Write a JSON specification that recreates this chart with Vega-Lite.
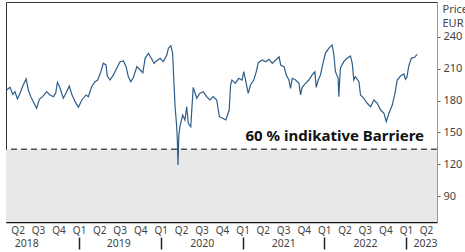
{
  "$schema": "https://vega.github.io/schema/vega-lite/v6.json",
  "width": 431,
  "height": 220,
  "autosize": "none",
  "padding": {"left": 6, "top": 2, "right": 28, "bottom": 30},
  "config": {
    "font": "Noto Sans",
    "view": {"stroke": "#333", "strokeWidth": 1},
    "axis": {"grid": false, "labelFont": "Noto Sans", "titleFont": "Noto Sans"}
  },
  "resolve": {"scale": {"x": "shared", "y": "shared"}, "axis": {"x": "independent", "y": "independent"}},
  "layer": [
    {
      "data": {"values": [{"barrier": 134, "low": 65.5}]},
      "mark": {"type": "rect", "color": "#e8e8e8"},
      "encoding": {
        "y": {"field": "barrier", "type": "quantitative", "scale": {"domain": [65.5, 273], "nice": false, "zero": false}, "axis": null},
        "y2": {"field": "low"}
      }
    },
    {
      "data": {"values": [{"barrier": 134}]},
      "mark": {"type": "rule", "color": "#555", "strokeWidth": 1.5, "strokeDash": [6, 4]},
      "encoding": {
        "y": {"field": "barrier", "type": "quantitative", "axis": null}
      }
    },
    {
      "data": {"values": [
        {"date": "2018-02-11", "price": 190.0},
        {"date": "2018-02-26", "price": 192.5},
        {"date": "2018-03-10", "price": 185.9},
        {"date": "2018-03-20", "price": 188.4},
        {"date": "2018-03-31", "price": 181.5},
        {"date": "2018-04-12", "price": 186.9},
        {"date": "2018-04-24", "price": 193.8},
        {"date": "2018-05-09", "price": 200.4},
        {"date": "2018-05-19", "price": 190.0},
        {"date": "2018-05-30", "price": 183.7},
        {"date": "2018-06-10", "price": 179.0},
        {"date": "2018-06-25", "price": 172.7},
        {"date": "2018-07-07", "price": 181.2},
        {"date": "2018-07-22", "price": 183.7},
        {"date": "2018-08-09", "price": 188.4},
        {"date": "2018-08-24", "price": 185.3},
        {"date": "2018-09-08", "price": 183.7},
        {"date": "2018-09-18", "price": 186.9},
        {"date": "2018-09-26", "price": 197.3},
        {"date": "2018-10-08", "price": 191.6},
        {"date": "2018-10-22", "price": 182.2},
        {"date": "2018-11-04", "price": 187.5},
        {"date": "2018-11-18", "price": 193.8},
        {"date": "2018-11-29", "price": 185.9},
        {"date": "2018-12-14", "price": 179.0},
        {"date": "2018-12-29", "price": 173.7},
        {"date": "2019-01-13", "price": 180.6},
        {"date": "2019-02-01", "price": 185.3},
        {"date": "2019-02-11", "price": 183.7},
        {"date": "2019-02-26", "price": 193.1},
        {"date": "2019-03-13", "price": 197.8},
        {"date": "2019-03-25", "price": 199.4},
        {"date": "2019-04-08", "price": 207.3},
        {"date": "2019-04-19", "price": 215.2},
        {"date": "2019-05-01", "price": 213.6},
        {"date": "2019-05-07", "price": 203.2},
        {"date": "2019-05-19", "price": 199.4},
        {"date": "2019-06-03", "price": 204.2},
        {"date": "2019-06-18", "price": 210.5},
        {"date": "2019-07-03", "price": 216.7},
        {"date": "2019-07-18", "price": 217.4},
        {"date": "2019-07-30", "price": 212.0},
        {"date": "2019-08-09", "price": 202.5},
        {"date": "2019-08-20", "price": 197.8},
        {"date": "2019-09-01", "price": 202.0},
        {"date": "2019-09-16", "price": 212.0},
        {"date": "2019-10-01", "price": 208.9},
        {"date": "2019-10-13", "price": 206.3},
        {"date": "2019-10-23", "price": 219.9},
        {"date": "2019-11-07", "price": 224.6},
        {"date": "2019-11-22", "price": 219.0},
        {"date": "2019-12-02", "price": 215.2},
        {"date": "2019-12-14", "price": 217.6},
        {"date": "2019-12-29", "price": 219.9},
        {"date": "2020-01-12", "price": 216.7},
        {"date": "2020-01-28", "price": 223.0},
        {"date": "2020-02-04", "price": 229.3},
        {"date": "2020-02-15", "price": 231.8},
        {"date": "2020-02-23", "price": 224.6},
        {"date": "2020-02-29", "price": 196.3},
        {"date": "2020-03-05", "price": 174.2},
        {"date": "2020-03-12", "price": 156.0},
        {"date": "2020-03-15", "price": 142.8},
        {"date": "2020-03-18", "price": 119.2},
        {"date": "2020-03-22", "price": 147.5},
        {"date": "2020-03-27", "price": 156.0},
        {"date": "2020-04-08", "price": 166.4},
        {"date": "2020-04-18", "price": 161.7},
        {"date": "2020-04-26", "price": 174.2},
        {"date": "2020-05-03", "price": 158.6},
        {"date": "2020-05-14", "price": 155.4},
        {"date": "2020-05-25", "price": 192.5},
        {"date": "2020-06-10", "price": 182.2},
        {"date": "2020-06-24", "price": 186.9},
        {"date": "2020-07-09", "price": 188.4},
        {"date": "2020-07-24", "price": 183.7},
        {"date": "2020-08-08", "price": 180.6},
        {"date": "2020-08-23", "price": 183.7},
        {"date": "2020-09-07", "price": 180.6},
        {"date": "2020-09-19", "price": 164.8},
        {"date": "2020-10-04", "price": 163.3},
        {"date": "2020-10-18", "price": 161.7},
        {"date": "2020-11-02", "price": 171.1},
        {"date": "2020-11-08", "price": 194.7},
        {"date": "2020-11-14", "price": 199.4},
        {"date": "2020-11-29", "price": 196.3},
        {"date": "2020-12-14", "price": 201.0},
        {"date": "2020-12-29", "price": 199.4},
        {"date": "2021-01-06", "price": 207.3},
        {"date": "2021-01-17", "price": 196.3},
        {"date": "2021-01-26", "price": 186.9},
        {"date": "2021-02-05", "price": 194.7},
        {"date": "2021-02-20", "price": 199.4},
        {"date": "2021-03-03", "price": 207.3},
        {"date": "2021-03-12", "price": 215.8},
        {"date": "2021-03-30", "price": 218.3},
        {"date": "2021-04-14", "price": 216.7},
        {"date": "2021-04-29", "price": 219.0},
        {"date": "2021-05-14", "price": 215.2},
        {"date": "2021-05-29", "price": 218.3},
        {"date": "2021-06-13", "price": 221.4},
        {"date": "2021-06-20", "price": 213.6},
        {"date": "2021-07-05", "price": 212.0},
        {"date": "2021-07-15", "price": 204.2},
        {"date": "2021-07-27", "price": 199.4},
        {"date": "2021-08-03", "price": 191.6},
        {"date": "2021-08-11", "price": 201.0},
        {"date": "2021-08-26", "price": 199.4},
        {"date": "2021-09-10", "price": 196.3},
        {"date": "2021-09-17", "price": 185.3},
        {"date": "2021-09-24", "price": 192.5},
        {"date": "2021-10-09", "price": 196.3},
        {"date": "2021-10-24", "price": 199.4},
        {"date": "2021-11-08", "price": 204.2},
        {"date": "2021-11-20", "price": 207.3},
        {"date": "2021-11-26", "price": 192.5},
        {"date": "2021-12-05", "price": 199.4},
        {"date": "2021-12-15", "price": 204.2},
        {"date": "2021-12-26", "price": 215.2},
        {"date": "2022-01-06", "price": 224.6},
        {"date": "2022-01-21", "price": 229.3},
        {"date": "2022-02-05", "price": 232.5},
        {"date": "2022-02-13", "price": 223.0},
        {"date": "2022-02-20", "price": 207.3},
        {"date": "2022-03-04", "price": 201.0},
        {"date": "2022-03-07", "price": 183.7},
        {"date": "2022-03-14", "price": 210.5},
        {"date": "2022-03-29", "price": 216.7},
        {"date": "2022-04-13", "price": 219.9},
        {"date": "2022-04-28", "price": 222.1},
        {"date": "2022-05-06", "price": 215.2},
        {"date": "2022-05-13", "price": 199.4},
        {"date": "2022-05-20", "price": 202.5},
        {"date": "2022-06-05", "price": 197.8},
        {"date": "2022-06-12", "price": 185.3},
        {"date": "2022-06-27", "price": 182.2},
        {"date": "2022-07-12", "price": 177.5},
        {"date": "2022-07-27", "price": 174.2},
        {"date": "2022-08-11", "price": 180.6},
        {"date": "2022-08-26", "price": 177.5},
        {"date": "2022-09-10", "price": 171.1},
        {"date": "2022-09-25", "price": 168.0},
        {"date": "2022-10-05", "price": 160.1},
        {"date": "2022-10-17", "price": 168.0},
        {"date": "2022-11-01", "price": 175.8},
        {"date": "2022-11-13", "price": 186.9},
        {"date": "2022-11-23", "price": 199.4},
        {"date": "2022-12-08", "price": 203.2},
        {"date": "2022-12-23", "price": 205.1},
        {"date": "2022-12-30", "price": 200.1},
        {"date": "2023-01-06", "price": 202.5},
        {"date": "2023-01-13", "price": 212.0},
        {"date": "2023-01-25", "price": 219.9},
        {"date": "2023-02-09", "price": 220.8},
        {"date": "2023-02-20", "price": 223.7}
      ]},
      "mark": {"type": "line", "color": "#2d5e8b", "strokeWidth": 1.2},
      "encoding": {
        "x": {
          "field": "date", "type": "temporal",
          "scale": {"domain": [{"year": 2018, "month": 2, "date": 8}, {"year": 2023, "month": 5, "date": 20}], "nice": false},
          "axis": {
            "orient": "bottom",
            "title": null,
            "format": "Q%q",
            "values": [
              {"year": 2018, "month": 4, "date": 1}, {"year": 2018, "month": 7, "date": 1}, {"year": 2018, "month": 10, "date": 1},
              {"year": 2019, "month": 1, "date": 1}, {"year": 2019, "month": 4, "date": 1}, {"year": 2019, "month": 7, "date": 1}, {"year": 2019, "month": 10, "date": 1},
              {"year": 2020, "month": 1, "date": 1}, {"year": 2020, "month": 4, "date": 1}, {"year": 2020, "month": 7, "date": 1}, {"year": 2020, "month": 10, "date": 1},
              {"year": 2021, "month": 1, "date": 1}, {"year": 2021, "month": 4, "date": 1}, {"year": 2021, "month": 7, "date": 1}, {"year": 2021, "month": 10, "date": 1},
              {"year": 2022, "month": 1, "date": 1}, {"year": 2022, "month": 4, "date": 1}, {"year": 2022, "month": 7, "date": 1}, {"year": 2022, "month": 10, "date": 1},
              {"year": 2023, "month": 1, "date": 1}, {"year": 2023, "month": 4, "date": 1}
            ],
            "ticks": false,
            "labelPadding": 3,
            "labelFontSize": 10,
            "labelColor": "#444",
            "labelFlush": false,
            "labelOverlap": false,
            "domainColor": "#111",
            "domainWidth": 1.5
          }
        },
        "y": {
          "field": "price", "type": "quantitative",
          "axis": {
            "orient": "right",
            "values": [90, 120, 150, 180, 210, 240],
            "tickSize": 3,
            "tickColor": "#666",
            "labelFontSize": 11,
            "labelColor": "#444",
            "labelPadding": 3,
            "domainColor": "#999",
            "title": ["Price", "EUR"],
            "titleAngle": 0,
            "titleAlign": "left",
            "titleBaseline": "top",
            "titleX": 5,
            "titleY": 1,
            "titleFontSize": 11,
            "titleFontWeight": "normal",
            "titleColor": "#444",
            "titleLineHeight": 14
          }
        }
      }
    },
    {
      "data": {"values": [{"date": "2023-03-23", "y": 146.6, "label": "60 % indikative Barriere"}]},
      "mark": {"type": "text", "align": "right", "baseline": "middle", "fontSize": 15, "fontWeight": "bold", "font": "Noto Sans", "color": "#111"},
      "encoding": {
        "x": {
          "field": "date", "type": "temporal",
          "axis": {
            "orient": "bottom",
            "title": null,
            "offset": 15,
            "domain": false,
            "values": [
              {"year": 2018, "month": 5, "date": 10},
              {"year": 2019, "month": 1, "date": 1}, {"year": 2019, "month": 6, "date": 25},
              {"year": 2020, "month": 1, "date": 1}, {"year": 2020, "month": 7, "date": 2},
              {"year": 2021, "month": 1, "date": 1}, {"year": 2021, "month": 7, "date": 2},
              {"year": 2022, "month": 1, "date": 1}, {"year": 2022, "month": 7, "date": 2},
              {"year": 2023, "month": 1, "date": 1}, {"year": 2023, "month": 3, "date": 27}
            ],
            "labelExpr": "month(datum.value) == 0 && date(datum.value) == 1 ? '' : timeFormat(datum.value, '%Y')",
            "tickSize": 12,
            "tickWidth": 1.5,
            "tickColor": "#222",
            "tickOpacity": {"condition": {"test": "month(datum.value) == 0 && date(datum.value) == 1", "value": 1}, "value": 0},
            "labelPadding": -11,
            "labelFontSize": 10.5,
            "labelColor": "#444",
            "labelFlush": false,
            "labelOverlap": false
          }
        },
        "y": {"field": "y", "type": "quantitative", "axis": null},
        "text": {"field": "label"}
      }
    }
  ]
}
